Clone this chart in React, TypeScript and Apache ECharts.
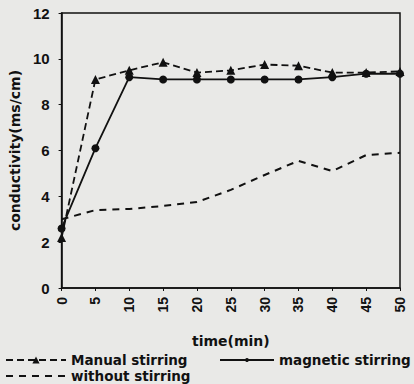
import React, { useEffect, useRef } from "react";
import * as echarts from "echarts";

const timeMin = [0, 5, 10, 15, 20, 25, 30, 35, 40, 45, 50];
const manualStirring = [2.2, 9.1, 9.5, 9.85, 9.4, 9.5, 9.75, 9.7, 9.4, 9.4, 9.45];
const magneticStirring = [2.6, 6.1, 9.2, 9.1, 9.1, 9.1, 9.1, 9.1, 9.2, 9.35, 9.35];
const withoutStirring = [3.0, 3.4, 3.45, 3.58, 3.75, 4.28, 4.93, 5.55, 5.1, 5.8, 5.9];
const yTicks = [0, 2, 4, 6, 8, 10, 12];

const FONT = "Liberation Sans";
const TFONT = "DejaVu Sans";

export default function App() {
  const ref = useRef<HTMLDivElement>(null);
  useEffect(() => {
    const chart = echarts.init(ref.current!, null, { renderer: "svg" });
    const pair = (ys: number[]) => timeMin.map((t, i) => [t, ys[i]]);
    const legendText = { fontFamily: TFONT, fontWeight: "bold", fontSize: 13.5, color: "#111" };
    chart.setOption({
      animation: false,
      backgroundColor: "#e9e9e7",
      grid: {
        left: 61, right: 14, top: 13, bottom: 96,
        show: true, borderColor: "#111", borderWidth: 1.5, backgroundColor: "transparent",
      },
      xAxis: {
        type: "value", min: 0, max: 50, interval: 5,
        name: "time(min)", nameLocation: "middle", nameGap: 46,
        nameTextStyle: { fontFamily: TFONT, fontWeight: "bold", fontSize: 14, color: "#111" },
        axisLine: { show: true, lineStyle: { color: "#111", width: 1.5 } },
        axisTick: { show: true, length: 3, lineStyle: { color: "#111" } },
        axisLabel: { rotate: 90, margin: 9, fontFamily: FONT, fontWeight: 900, fontSize: 14, color: "#111" },
        splitLine: { show: false },
      },
      yAxis: {
        type: "value", min: yTicks[0], max: yTicks[yTicks.length - 1], interval: 2,
        name: "conductivity(ms/cm)", nameLocation: "middle", nameGap: 38, nameRotate: 90,
        nameTextStyle: { fontFamily: TFONT, fontWeight: "bold", fontSize: 14, color: "#111" },
        axisLine: { show: true, lineStyle: { color: "#111", width: 1.5 } },
        axisTick: { show: true, length: 3, lineStyle: { color: "#111" } },
        axisLabel: { margin: 12, fontFamily: FONT, fontWeight: 900, fontSize: 15, color: "#111" },
        splitLine: { show: false },
      },
      legend: [
        {
          data: ["Manual stirring"], left: 0, top: 348, itemWidth: 60, itemHeight: 9, itemGap: 4,
          textStyle: legendText,
        },
        {
          data: ["magnetic stirring"], left: 214, top: 348, itemWidth: 54, itemHeight: 5, itemGap: 4,
          textStyle: legendText,
        },
        {
          data: ["without stirring"], left: 0, top: 364, itemWidth: 60, itemHeight: 9, itemGap: 4,
          textStyle: legendText, itemStyle: { opacity: 0 },
        },
      ],
      series: [
        {
          name: "Manual stirring", type: "line", data: pair(manualStirring),
          symbol: "triangle", symbolSize: 9, showSymbol: true,
          lineStyle: { color: "#111", width: 1.8, type: [7, 4] },
          itemStyle: { color: "#111" },
        },
        {
          name: "magnetic stirring", type: "line", data: pair(magneticStirring),
          symbol: "circle", symbolSize: 8,
          lineStyle: { color: "#111", width: 1.8, type: "solid" },
          itemStyle: { color: "#111" },
        },
        {
          name: "without stirring", type: "line", data: pair(withoutStirring),
          symbol: "none",
          lineStyle: { color: "#111", width: 2, type: [7, 6] },
          itemStyle: { color: "#111" },
        },
      ],
    });
    return () => chart.dispose();
  }, []);
  return (
    <div
      ref={ref}
      style={{ position: "fixed", left: 0, top: 0, width: 414, height: 384 }}
    />
  );
}
